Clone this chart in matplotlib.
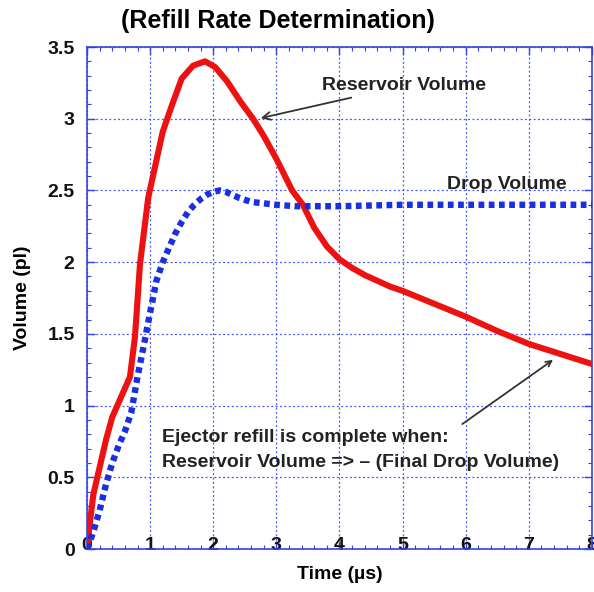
import matplotlib
matplotlib.use("Agg")
import matplotlib.pyplot as plt
from matplotlib.ticker import MultipleLocator

plt.rcParams['font.family'] = ['Liberation Sans', 'DejaVu Sans']

# Reservoir volume (red)
res_t = [0, 0.05, 0.1, 0.2, 0.3, 0.4, 0.5, 0.6, 0.68, 0.76, 0.84, 0.97, 1.08, 1.2, 1.35, 1.5, 1.68,
         1.87, 2.03, 2.22, 2.43, 2.63, 2.8, 3.0, 3.25, 3.42, 3.6, 3.8, 4.0, 4.2, 4.4, 4.6, 4.8, 5.0,
         5.5, 6.0, 6.5, 7.0, 7.5, 8.0]
res_v = [0, 0.2, 0.38, 0.57, 0.76, 0.92, 1.02, 1.12, 1.2, 1.48, 1.99, 2.45, 2.67, 2.91, 3.1, 3.28, 3.37,
         3.4, 3.36, 3.26, 3.12, 3.0, 2.88, 2.72, 2.5, 2.4, 2.24, 2.11, 2.02, 1.96, 1.91, 1.87, 1.83, 1.8,
         1.71, 1.62, 1.52, 1.43, 1.36, 1.29]

# Drop volume (blue)
drop_t = [0, 0.1, 0.2, 0.3, 0.4, 0.5, 0.6, 0.7, 0.8, 0.9, 1.0, 1.1, 1.2, 1.3, 1.4, 1.5, 1.6, 1.7, 1.8,
          1.9, 2.0, 2.1, 2.2, 2.3, 2.4, 2.6, 2.8, 3.0, 3.3, 4.0, 5.0, 6.0, 7.0, 8.0]
drop_v = [0, 0.12, 0.27, 0.45, 0.6, 0.72, 0.82, 0.95, 1.2, 1.42, 1.65, 1.87, 2.0, 2.1, 2.2, 2.28,
          2.35, 2.4, 2.44, 2.47, 2.49, 2.5, 2.49, 2.47, 2.45, 2.42, 2.41, 2.4, 2.39, 2.39, 2.4, 2.4,
          2.4, 2.4]

x_ticks = [0, 1, 2, 3, 4, 5, 6, 7, 8]
x_labels = ['0', '1', '2', '3', '4', '5', '6', '7', '8']
y_ticks = [0, 0.5, 1, 1.5, 2, 2.5, 3, 3.5]
y_labels = ['0', '0.5', '1', '1.5', '2', '2.5', '3', '3.5']

fig = plt.figure(figsize=(5.94, 5.92), dpi=100)
ax = fig.add_axes([0.1465, 0.0726, 0.85, 0.848])

ax.plot(res_t, res_v, color='#ee1111', lw=4.4, solid_capstyle='round',
        solid_joinstyle='round', zorder=3)
ax.plot(drop_t, drop_v, color='#1a2fe0', lw=4.6, linestyle=(0, (0.9, 0.7)), zorder=3)

ax.set_xlim(0, 8)
ax.set_ylim(0, 3.5)
ax.set_xticks(x_ticks)
ax.set_xticklabels(x_labels)
ax.set_yticks(y_ticks)
ax.set_yticklabels(y_labels)
ax.xaxis.set_minor_locator(MultipleLocator(0.2))
ax.yaxis.set_minor_locator(MultipleLocator(0.1))
ax.tick_params(which='both', direction='in', top=True, right=True, colors='#3344dd',
               labelcolor='#111111')
ax.tick_params(which='major', length=6, width=1)
ax.tick_params(which='minor', length=3, width=0.8)
ax.tick_params(axis='x', pad=-9)
ax.tick_params(axis='y', pad=9)
for lab in ax.get_xticklabels() + ax.get_yticklabels():
    lab.set_fontweight('bold')
    lab.set_fontsize(14)
for s in ax.spines.values():
    s.set_color('#3344dd')
    s.set_linewidth(1.2)
ax.grid(True, which='major', color='#4455ee', linestyle=(0, (1.5, 2)), lw=0.9)

ax.set_xlabel('Time (µs)', fontsize=14, fontweight='bold', labelpad=9)
ax.set_ylabel('Volume (pl)', fontsize=14, fontweight='bold', labelpad=12)
fig.text(0.468, 0.965, '(Refill Rate Determination)', ha='center', va='center',
         fontsize=18, fontweight='bold')

ax.annotate('Reservoir Volume', xy=(2.71, 3.0), xytext=(3.72, 3.23), fontsize=14,
            fontweight='bold', ha='left', va='center', color='#222222',
            arrowprops=dict(arrowstyle='->', color='#333333', lw=1.3))
ax.text(5.7, 2.54, 'Drop Volume', fontsize=14, fontweight='bold', ha='left', va='center',
        color='#222222')
ax.annotate('', xy=(7.42, 1.33), xytext=(5.91, 0.86),
            arrowprops=dict(arrowstyle='->', color='#333333', lw=1.3))
ax.text(1.19, 0.78, 'Ejector refill is complete when:', fontsize=14, fontweight='bold',
        ha='left', va='center', color='#222222')
ax.text(1.19, 0.6, 'Reservoir Volume => – (Final Drop Volume)', fontsize=14, fontweight='bold',
        ha='left', va='center', color='#222222')

fig.savefig('out.png', dpi=100)
